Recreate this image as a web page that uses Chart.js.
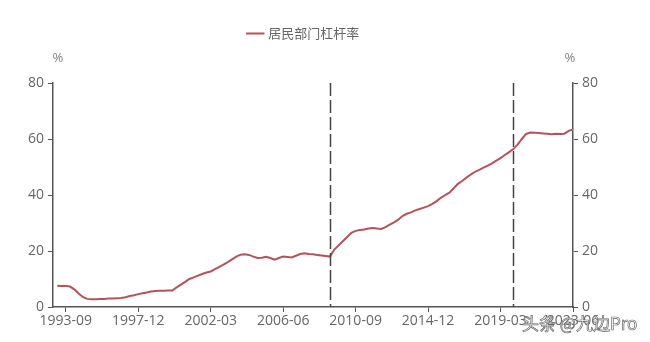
<!DOCTYPE html>
<html>
<head>
<meta charset="utf-8">
<script src="https://cdn.jsdelivr.net/npm/chart.js@4"></script>
<style>
  body { margin: 0; background: #fff; }
  #wrap { position: relative; width: 650px; height: 342px; }
  #mark {
    position: absolute; left: 522px; top: 310px;
    font: 17px "Noto Sans CJK SC", sans-serif; color: #fff;
    -webkit-text-stroke: 0.7px #666;
  }
</style>
</head>
<body>
<div id="wrap">
  <canvas id="myChart" width="650" height="342"></canvas>
  <div id="mark">头条 @九边Pro</div>
</div>
<script>
// quarterly, 1993-03 .. 2023-06
const quarters = [];
for (let y = 1993; y <= 2023; y++) {
  ['03', '06', '09', '12'].forEach(m => quarters.push(y + '-' + m));
}
quarters.splice(quarters.indexOf('2023-06') + 1);

const leverage = [
  7.6, 7.5, 7.5, 7.3, 6.3, 4.8, 3.6, 2.9, 2.8, 2.8,
  2.9, 2.9, 3.0, 3.0, 3.1, 3.2, 3.5, 3.9, 4.2, 4.6,
  4.9, 5.2, 5.5, 5.7, 5.8, 5.8, 5.9, 5.9, 7.0, 8.0,
  9.0, 10.0, 10.6, 11.2, 11.8, 12.3, 12.7, 13.5, 14.3, 15.1,
  16.0, 17.0, 18.0, 18.7, 18.8, 18.6, 18.0, 17.5, 17.6, 17.9,
  17.5, 16.9, 17.5, 18.0, 17.9, 17.7, 18.3, 18.9, 19.2, 18.9,
  18.8, 18.6, 18.4, 18.2, 18.0, 20.5, 22.0, 23.5, 25.0, 26.5,
  27.2, 27.5, 27.7, 28.0, 28.2, 28.0, 27.9, 28.5, 29.4, 30.2,
  31.2, 32.5, 33.3, 33.8, 34.5, 35.0, 35.5, 36.0, 36.8, 37.8,
  39.0, 40.0, 40.8, 42.4, 44.0, 45.0, 46.2, 47.3, 48.3, 49.0,
  49.8, 50.5, 51.3, 52.3, 53.2, 54.3, 55.3, 56.4, 58.0, 60.0,
  61.8, 62.3, 62.2, 62.1, 62.0, 61.9, 61.7, 61.9, 61.8, 61.9,
  62.9, 63.4
];

const tickLabels = ['1993-09', '1997-12', '2002-03', '2006-06', '2010-09', '2014-12', '2019-03', '2023-06'];
const markerDates = ['2009-03', '2019-12'];
const yTicks = [0, 20, 40, 60, 80];

const axisColor = '#555';
const textColor = '#666';
const tickFont = { size: 14, family: '"Open Sans", sans-serif' };

const markers = {
  id: 'markers',
  beforeLayout(chart) {
    // extra room under the legend for the % labels
    const lg = chart.legend;
    if (lg && !lg._grown) {
      const fit = lg.fit.bind(lg);
      lg.fit = function () { fit(); this.height += 33; };
      lg._grown = true;
    }
  },
  afterDatasetsDraw(chart) {
    const ctx = chart.ctx;
    const x = chart.scales.x;
    const y = chart.scales.y;
    ctx.save();
    ctx.strokeStyle = '#444';
    ctx.lineWidth = 1.5;
    ctx.setLineDash([13, 4]);
    markerDates.forEach(d => {
      const px = Math.round(x.getPixelForValue(quarters.indexOf(d))) + 0.5;
      ctx.beginPath();
      ctx.moveTo(px, y.getPixelForValue(80));
      ctx.lineTo(px, y.getPixelForValue(0));
      ctx.stroke();
    });
    ctx.setLineDash([]);
    ctx.fillStyle = '#888';
    ctx.font = '13px "Noto Sans", sans-serif';
    ctx.textAlign = 'center';
    ctx.fillText('%', chart.chartArea.left + 5, chart.chartArea.top - 25);
    ctx.fillText('%', chart.chartArea.right - 3, chart.chartArea.top - 25);
    ctx.restore();
  }
};

const chart = new Chart(document.getElementById('myChart'), {
  type: 'line',
  data: {
    datasets: [{
      label: '居民部门杠杆率',
      data: leverage.map((v, i) => ({ x: i, y: v })),
      borderColor: '#b3535c',
      backgroundColor: '#b3535c',
      borderWidth: 2,
      pointRadius: 0,
      tension: 0
    }]
  },
  options: {
    responsive: false,
    animation: false,
    layout: { padding: { top: 11, right: 42 } },
    plugins: {
      legend: {
        labels: {
          usePointStyle: true,
          pointStyle: 'line',
          boxWidth: 16,
          color: textColor,
          padding: 16,
          font: { size: 13, family: '"Noto Sans CJK SC", sans-serif' }
        }
      },
      tooltip: { enabled: false }
    },
    scales: {
      x: {
        type: 'linear',
        min: -1,
        max: 121,
        afterBuildTicks: s => {
          s.ticks = tickLabels.map(l => ({ value: quarters.indexOf(l) }));
        },
        afterFit: s => { s.height = 35; },
        border: { color: axisColor, width: 1.5 },
        grid: { drawOnChartArea: false, color: axisColor, tickLength: 5 },
        ticks: {
          autoSkip: false,
          maxRotation: 0,
          padding: 1,
          color: textColor,
          font: tickFont,
          callback: v => quarters[v]
        }
      },
      y: {
        position: 'left',
        min: 0,
        max: 80,
        afterBuildTicks: s => { s.ticks = yTicks.map(v => ({ value: v })); },
        afterFit: s => { s.width = 53; },
        border: { color: axisColor, width: 1.5 },
        grid: { drawOnChartArea: false, color: axisColor, tickLength: 5 },
        ticks: { color: textColor, padding: 4, font: tickFont }
      },
      y2: {
        position: 'right',
        min: 0,
        max: 80,
        afterBuildTicks: s => { s.ticks = yTicks.map(v => ({ value: v })); },
        afterFit: s => { s.width = 35; },
        border: { color: axisColor, width: 1.5 },
        grid: { drawOnChartArea: false, color: axisColor, tickLength: 5 },
        ticks: { color: textColor, padding: 4, font: tickFont }
      }
    }
  },
  plugins: [markers]
});
</script>
</body>
</html>
